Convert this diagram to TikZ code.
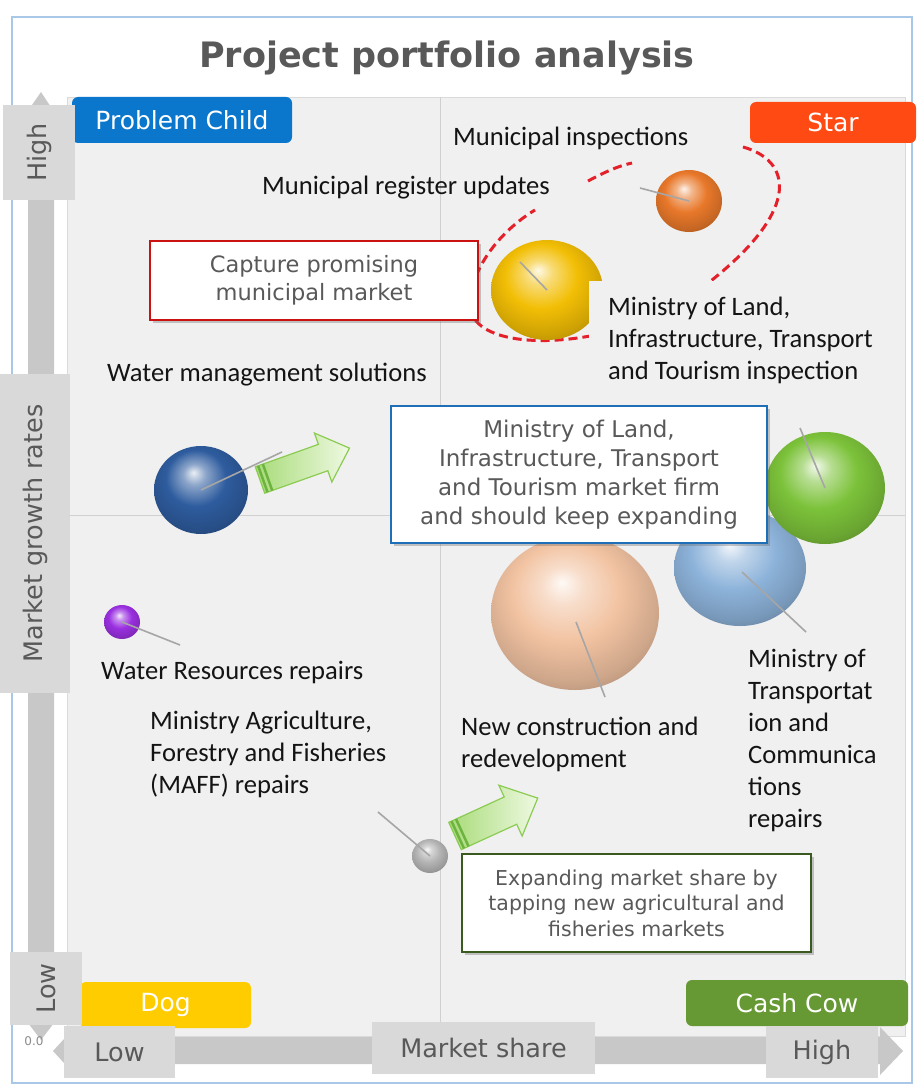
\documentclass[tikz,border=0pt]{standalone}
\usepackage{fontspec}
\setmainfont{Carlito}
\newfontfamily\dv{DejaVu Sans}
\usetikzlibrary{shadows,shapes.geometric}
\definecolor{plotbg}{HTML}{F0F0F0}
\definecolor{plotedge}{HTML}{DADADA}
\definecolor{divcol}{HTML}{D0D0D0}
\definecolor{axisbar}{HTML}{C8C8C8}
\definecolor{axisbox}{HTML}{D9D9D9}
\definecolor{txtgray}{HTML}{595959}
\definecolor{frameblue}{HTML}{A9C8E8}
\definecolor{pcblue}{HTML}{0A77CC}
\definecolor{starred}{HTML}{FF4A14}
\definecolor{dogyel}{HTML}{FFCC00}
\definecolor{cowgreen}{HTML}{669933}
\definecolor{dashred}{HTML}{E4202A}
\definecolor{leader}{HTML}{A6A6A6}
\definecolor{redbox}{HTML}{CC1111}
\definecolor{bluebox}{HTML}{1F6FB8}
\definecolor{greenbox}{HTML}{3A5A1F}
\definecolor{arrowA}{HTML}{A8DB78}
\definecolor{arrowB}{HTML}{EEF9E2}
\definecolor{arrowedge}{HTML}{8CCB52}
\definecolor{arrowstripe}{HTML}{6DB33F}
\definecolor{cOrange}{HTML}{E8782A}
\definecolor{cGold}{HTML}{F2BE05}
\definecolor{cBlue}{HTML}{2E5C9E}
\definecolor{cPurple}{HTML}{9A30E0}
\definecolor{cGreen}{HTML}{7CC23A}
\definecolor{cLblue}{HTML}{8DB3DA}
\definecolor{cPeach}{HTML}{F2C3A2}
\definecolor{cGray}{HTML}{B4B4B4}
\colorlet{ballc}{cGray}
\pgfdeclareradialshading[ballc]{softball}{\pgfpoint{-4bp}{10bp}}{%
  color(0bp)=(ballc!10!white); color(6bp)=(ballc!55!white); color(16bp)=(ballc);
  color(27bp)=(ballc!85!black); color(38bp)=(ballc!62!black); color(50bp)=(ballc!38!black)}
\begin{document}
\begin{tikzpicture}[x=1pt,y=-1pt,
  titlestyle/.style={font=\dv\bfseries\fontsize{35}{40}\selectfont, text=txtgray, inner sep=0},
  divider/.style={draw=divcol, line width=1pt},
  catlabel/.style={rounded corners=6pt, text=white, font=\dv\fontsize{25}{30}\selectfont, inner sep=0},
  axbox/.style={fill=axisbox, text=txtgray, font=\dv\fontsize{25.5}{30}\selectfont, inner sep=0},
  datalabel/.style={font=\fontsize{26.6}{32}\selectfont, text=black!92, align=left, inner sep=0, anchor=west},
  callout/.style={fill=white, line width=2.5pt, text=txtgray, align=center, inner sep=0,
     drop shadow={shadow xshift=3pt, shadow yshift=-3pt, opacity=0.35, fill=black!60}},
  leaderline/.style={draw=leader, line width=1.6pt},
  dashcurve/.style={draw=dashred, line width=3pt, dash pattern=on 9pt off 5pt},
  bubble/.style={ellipse, inner sep=0, shading=softball, bubblecolor=#1},
  bubblecolor/.code={\colorlet{ballc}{#1}},
  growarrow/.style={left color=arrowA, right color=arrowB, draw=arrowedge, line width=1.2pt, line join=miter},
  stripe/.style={draw=arrowstripe, line width=2.5pt}
]
\useasboundingbox (0,0) rectangle (916,1086);
\fill[white] (0,0) rectangle (916,1086);
\draw[frameblue, line width=1.5pt] (12,17) rectangle (912,1083);

\node[titlestyle] (title) at (447,58) {Project portfolio analysis};

% plot area
\draw[fill=plotbg, draw=plotedge, line width=0.8pt] (67,97) rectangle (905,1036);
\draw[divider] (440,97) -- (440,1036);
\draw[divider] (67,515) -- (905,515);

% axis arrows
\fill[axisbar] (28,118) -- (23,118) -- (41,92) -- (58,118) -- (54,118) -- (54,1015) -- (60,1015) -- (41,1040) -- (22,1015) -- (28,1015) -- cycle;
\fill[axisbar] (75,1037) -- (75,1027) -- (53,1051) -- (75,1075) -- (75,1064) -- (880,1064) -- (880,1075) -- (903,1051) -- (880,1027) -- (880,1037) -- cycle;

% category labels
\node[catlabel, fill=pcblue, minimum width=220pt, minimum height=46pt] (pc) at (182,120) {Problem Child};
\node[catlabel, fill=starred, minimum width=166pt, minimum height=41pt] (star) at (833,122.5) {Star};
\node[catlabel, fill=dogyel, minimum width=171pt, minimum height=46pt] (dog) at (165.5,1005) {Dog};
\node[catlabel, fill=cowgreen, minimum width=222pt, minimum height=46pt] (cow) at (797,1003) {Cash Cow};

% axis boxes
\node[axbox, rotate=90, minimum width=95pt, minimum height=72pt] (yhigh) at (39,152.5) {High};
\node[axbox, rotate=90, minimum width=319pt, minimum height=70pt] (ylabel) at (35,533.5) {Market growth rates};
\node[axbox, rotate=90, minimum width=73pt, minimum height=72pt] (ylow) at (46,988.5) {Low};
\node[font=\dv\fontsize{12}{14}\selectfont, text=black!45, inner sep=0] (zero) at (34,1041) {0.0};
\node[axbox, minimum width=111pt, minimum height=52pt] (xlow) at (119.5,1052) {Low};
\node[axbox, minimum width=223pt, minimum height=52pt] (xlabel) at (483.5,1048) {Market share};
\node[axbox, minimum width=112pt, minimum height=52pt] (xhigh) at (822,1052) {High};

% dashed grouping curve
\draw[dashcurve] (743,147) .. controls (790,160) and (803,207) .. (712,280) -- (700,290);
\draw[dashcurve] (605,333) .. controls (530,350) and (465,338) .. (470,300) .. controls (474,262) and (505,228) .. (535,210);
\draw[dashcurve] (588,181) .. controls (605,172) and (618,166) .. (632,163);

% bubbles
\node[bubble=cOrange, minimum width=66pt, minimum height=62pt] (bOrange) at (689,201) {};
\node[bubble=cGold, minimum width=112pt, minimum height=100pt] (bGold) at (547,290) {};
\node[bubble=cBlue, minimum width=94pt, minimum height=88pt] (bBlue) at (201,490) {};
\node[bubble=cPurple, minimum width=36pt, minimum height=34pt] (bPurple) at (122,622) {};
\node[bubble=cLblue, minimum width=132pt, minimum height=116pt] (bLblue) at (740,568) {};
\node[bubble=cGreen, minimum width=120pt, minimum height=112pt] (bGreen) at (825,488) {};
\node[bubble=cPeach, minimum width=168pt, minimum height=154pt] (bPeach) at (575,613) {};
\node[bubble=cGray, minimum width=36pt, minimum height=34pt] (bGray) at (430,856) {};

% leader lines
\coordinate (lOrange) at (640,188);
\coordinate (lGold) at (520,262);
\coordinate (lBlue) at (282,452);
\coordinate (lPurple) at (180,645);
\coordinate (lGreen) at (800,428);
\coordinate (lLblue) at (806,632);
\coordinate (lPeach) at (605,697);
\coordinate (lGray) at (378,812);
\draw[leaderline] (bOrange.center) -- (lOrange);
\draw[leaderline] (bGold.center) -- (lGold);
\draw[leaderline] (bBlue.center) -- (lBlue);
\draw[leaderline] (bPurple.center) -- (lPurple);
\draw[leaderline] (bGreen.center) -- (lGreen);
\draw[leaderline] ([shift={(2pt,-4pt)}]bLblue.center) -- (lLblue);
\draw[leaderline] ([shift={(1pt,-9pt)}]bPeach.center) -- (lPeach);
\draw[leaderline] (bGray.center) -- (lGray);

% data labels
\fill[plotbg] (589,281) rectangle (885,392);
\node[datalabel] (tInsp) at (453,138) {Municipal inspections};
\node[datalabel] (tReg) at (262,188) {Municipal register updates};
\node[datalabel] (tMlit) at (608,340) {Ministry of Land,\\Infrastructure, Transport\\and Tourism inspection};
\node[datalabel] (tWater) at (107,375) {Water management solutions};
\node[datalabel] (tWres) at (101,672) {Water Resources repairs};
\node[datalabel] (tMaff) at (150,754) {Ministry Agriculture,\\Forestry and Fisheries\\(MAFF) repairs};
\node[datalabel] (tNew) at (461,744) {New construction and\\redevelopment};
\node[datalabel] (tMot) at (748,740) {Ministry of\\Transportat\\ion and\\Communica\\tions\\repairs};

% growth arrows
\begin{scope}[shift={(260,480)}, rotate=19.6]
  \draw[growarrow] (0,-14) -- (67,-14) -- (67,-26) -- (95,0) -- (67,26) -- (67,14) -- (0,14) -- cycle;
  \draw[stripe] (3,-14) -- (3,14);
  \draw[stripe] (8,-14) -- (8,14);
\end{scope}
\begin{scope}[shift={(455,836)}, rotate=24.6]
  \draw[growarrow] (0,-15) -- (61,-15) -- (61,-28) -- (91,0) -- (61,28) -- (61,15) -- (0,15) -- cycle;
  \draw[stripe] (3,-15) -- (3,15);
  \draw[stripe] (8,-15) -- (8,15);
\end{scope}

% callout boxes
\node[callout, draw=redbox, minimum width=328pt, minimum height=79pt, font=\dv\fontsize{22.5}{28}\selectfont] (cRed) at (314,280.5) {Capture promising\\municipal market};
\node[callout, draw=bluebox, minimum width=376pt, minimum height=137pt, font=\dv\fontsize{23}{29}\selectfont] (cBlue) at (579,474.5) {Ministry of Land,\\Infrastructure, Transport\\and Tourism market firm\\and should keep expanding};
\node[callout, draw=greenbox, minimum width=349pt, minimum height=98pt, font=\dv\fontsize{20.5}{25.5}\selectfont] (cGreen) at (636.5,903) {Expanding market share by\\tapping new agricultural and\\fisheries markets};
\end{tikzpicture}
\end{document}
